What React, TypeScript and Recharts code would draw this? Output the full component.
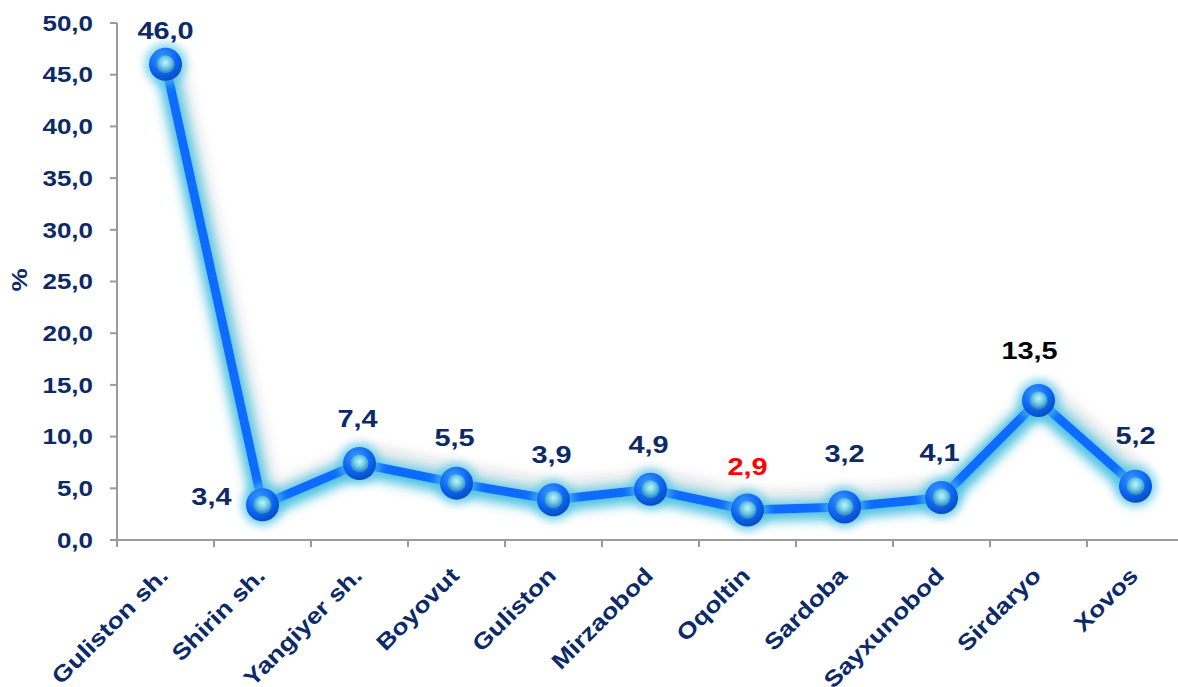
import { LineChart, Line, XAxis, YAxis, LabelList } from 'recharts';

const districts = ['Guliston sh.', 'Shirin sh.', 'Yangiyer sh.', 'Boyovut', 'Guliston', 'Mirzaobod', 'Oqoltin', 'Sardoba', 'Sayxunobod', 'Sirdaryo', 'Xovos'];
const shares = [46.0, 3.4, 7.4, 5.5, 3.9, 4.9, 2.9, 3.2, 4.1, 13.5, 5.2];
const yTicks = [0, 5, 10, 15, 20, 25, 30, 35, 40, 45, 50];

const data = districts.map((name, i) => ({ name, value: shares[i] }));

const NAVY = '#0c2a68';
const FONT = '"Liberation Sans", Arial, sans-serif';
const STRETCH = 1.18;
const HALF_BAND = 48.5;
const fmt = (v: number) => v.toFixed(1).replace('.', ',');

// label placement tweaks (dx, dy of text centre from the point)
const labelShift: Record<string, [number, number]> = {
  'Guliston sh.': [0, -34],
  'Oqoltin': [0, -43],
  'Sardoba': [0, -53],
  'Sirdaryo': [-9, -50],
  'Xovos': [0, -50],
};

const XTick = ({ x, y, payload, index }: any) => (
  <g>
    <line x1={x - HALF_BAND} y1={y} x2={x - HALF_BAND} y2={y + 7} stroke="#9a9a9a" strokeWidth={2} />
    {index === districts.length - 1 && (
      <line x1={x + HALF_BAND} y1={y} x2={x + HALF_BAND} y2={y + 7} stroke="#9a9a9a" strokeWidth={2} />
    )}
    <text
      transform={`translate(${x + 4} ${y + 37}) rotate(-45) scale(${STRETCH} 1)`}
      textAnchor="end"
      fontFamily={FONT}
      fontWeight="bold"
      fontSize={22.5}
      fill={NAVY}
    >
      {payload.value}
    </text>
  </g>
);

const YTick = ({ x, y, payload }: any) => (
  <text
    transform={`translate(${x} ${y}) scale(${STRETCH} 1)`}
    textAnchor="end"
    dominantBaseline="central"
    fontFamily={FONT}
    fontWeight="bold"
    fontSize={22}
    fill={NAVY}
  >
    {fmt(payload.value)}
  </text>
);

const Dot = ({ cx, cy }: any) => {
  if (cx == null || cy == null) return null;
  return (
    <g>
      <circle cx={cx} cy={cy} r={21} fill="#55c6e6" opacity={0.7} filter="url(#dotGlow)" />
      <circle cx={cx} cy={cy} r={16.5} fill="url(#ringGrad)" />
      <circle cx={cx} cy={cy} r={9} fill="url(#coreGrad)" />
    </g>
  );
};

const ValueLabel = ({ x, y, value, index }: any) => {
  const name = districts[index];
  let color = NAVY;
  if (name === 'Oqoltin') color = '#ff0000';
  if (name === 'Sirdaryo') color = '#000000';
  if (name === 'Shirin sh.') {
    return (
      <text
        transform={`translate(${x - 31} ${y - 8}) scale(${STRETCH} 1)`}
        textAnchor="end"
        dominantBaseline="central"
        fontFamily={FONT}
        fontWeight="bold"
        fontSize={24.5}
        fill={color}
      >
        {fmt(value)}
      </text>
    );
  }
  const [dx, dy] = labelShift[name] ?? [-2, -45];
  return (
    <text
      transform={`translate(${x + dx} ${y + dy}) scale(${STRETCH} 1)`}
      textAnchor="middle"
      dominantBaseline="central"
      fontFamily={FONT}
      fontWeight="bold"
      fontSize={24.5}
      fill={color}
    >
      {fmt(value)}
    </text>
  );
};

export default function App() {
  return (
    <div style={{ position: 'absolute', left: 0, top: 0, width: 1178, height: 687, background: '#fff', overflow: 'hidden' }}>
      <svg width={0} height={0} style={{ position: 'absolute' }}>
        <defs>
          <filter id="lineGlow" x="-20%" y="-20%" width="140%" height="140%">
            <feMorphology in="SourceAlpha" operator="dilate" radius="4" result="fat" />
            <feGaussianBlur in="fat" stdDeviation="6" result="blur" />
            <feOffset in="blur" dx="0" dy="3" result="blurO" />
            <feFlood floodColor="#3fbde0" floodOpacity="0.95" />
            <feComposite in2="blurO" operator="in" result="glow" />
            <feGaussianBlur in="SourceAlpha" stdDeviation="8" result="sh" />
            <feOffset in="sh" dx="6" dy="-8" result="sho" />
            <feFlood floodColor="#000" floodOpacity="0.3" />
            <feComposite in2="sho" operator="in" result="shadow" />
            <feMerge>
              <feMergeNode in="shadow" />
              <feMergeNode in="glow" />
              <feMergeNode in="SourceGraphic" />
            </feMerge>
          </filter>
          <filter id="dotGlow" x="-50%" y="-50%" width="200%" height="200%">
            <feGaussianBlur stdDeviation="4" />
          </filter>
          <radialGradient id="ringGrad" cx="40%" cy="30%" r="70%">
            <stop offset="0%" stopColor="#3a98ff" />
            <stop offset="65%" stopColor="#0a64f2" />
            <stop offset="100%" stopColor="#0a4cc4" />
          </radialGradient>
          <radialGradient id="coreGrad" cx="50%" cy="40%" r="60%">
            <stop offset="0%" stopColor="#c4f4fb" />
            <stop offset="50%" stopColor="#6ccbe8" />
            <stop offset="100%" stopColor="#2d7fbc" />
          </radialGradient>
        </defs>
      </svg>
      <LineChart width={1178} height={687} data={data} margin={{ top: 23, right: -6, bottom: 0, left: 0 }}>
        <XAxis
          dataKey="name"
          height={147}
          interval={0}
          padding={{ left: HALF_BAND, right: HALF_BAND }}
          tick={<XTick />}
          tickLine={false}
          tickSize={0}
          tickMargin={0}
          axisLine={{ stroke: '#9a9a9a', strokeWidth: 2 }}
        />
        <YAxis
          width={117}
          domain={[0, 50]}
          ticks={yTicks}
          interval={0}
          tickSize={7}
          tickMargin={17}
          tick={<YTick />}
          tickLine={{ stroke: '#9a9a9a', strokeWidth: 2 }}
          axisLine={{ stroke: '#9a9a9a', strokeWidth: 2 }}
          label={{
            content: () => (
              <text
                transform={`translate(19 280) rotate(-90) scale(${STRETCH} 1)`}
                textAnchor="middle"
                dominantBaseline="central"
                fontFamily={FONT}
                fontWeight="bold"
                fontSize={22}
                fill={NAVY}
              >
                %
              </text>
            ),
          }}
        />
        <Line
          type="linear"
          dataKey="value"
          stroke="#0a6cff"
          strokeWidth={9}
          filter="url(#lineGlow)"
          dot={<Dot />}
          activeDot={false}
          isAnimationActive={false}
        >
          <LabelList dataKey="value" content={<ValueLabel />} />
        </Line>
      </LineChart>
    </div>
  );
}
